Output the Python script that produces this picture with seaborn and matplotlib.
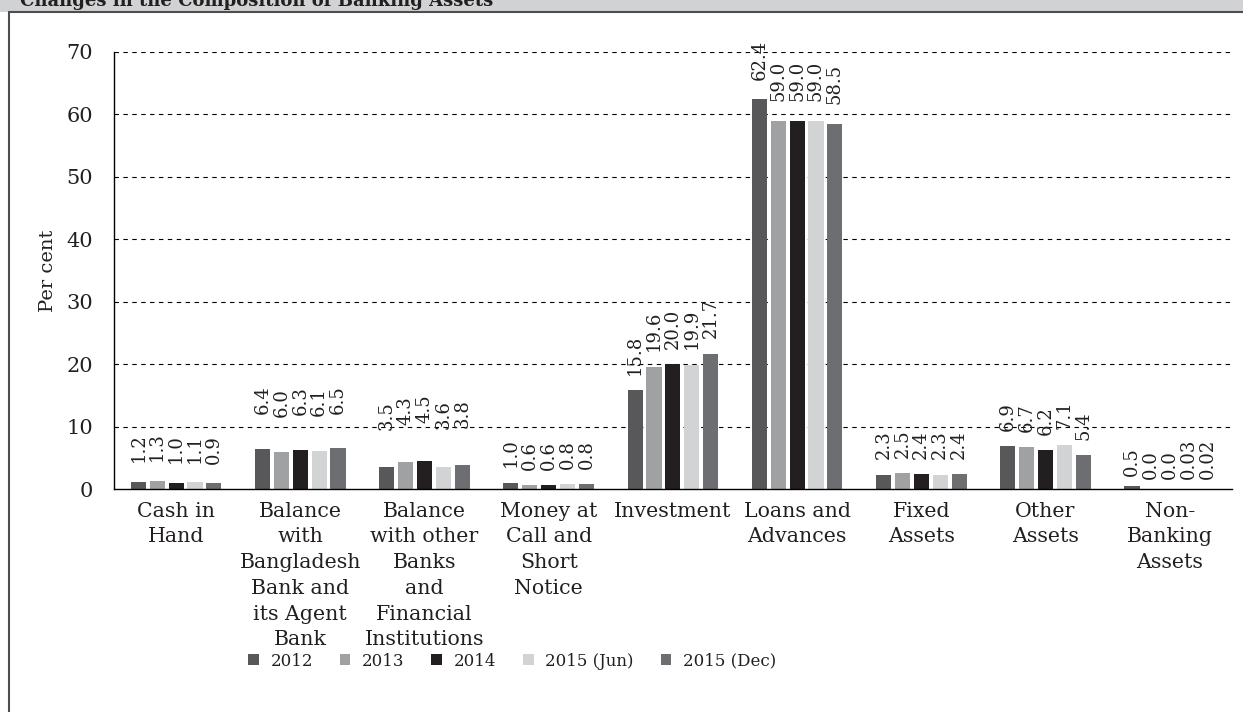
import matplotlib
matplotlib.use("Agg")
import matplotlib.pyplot as plt
from matplotlib.ticker import FixedLocator, NullFormatter
from matplotlib.lines import Line2D
from matplotlib.patches import Rectangle
import seaborn as sns
import pandas as pd

# Asset categories (x axis) and the share of each in total banking assets
categories = [
    "Cash in\nHand",
    "Balance\nwith\nBangladesh\nBank and\nits Agent\nBank",
    "Balance\nwith other\nBanks\nand\nFinancial\nInstitutions",
    "Money at\nCall and\nShort\nNotice",
    "Investment",
    "Loans and\nAdvances",
    "Fixed\nAssets",
    "Other\nAssets",
    "Non-\nBanking\nAssets",
]
series_names = ["2012", "2013", "2014", "2015 (Jun)", "2015 (Dec)"]
share_2012 = [1.2, 6.4, 3.5, 1.0, 15.8, 62.4, 2.3, 6.9, 0.5]
share_2013 = [1.3, 6.0, 4.3, 0.6, 19.6, 59.0, 2.5, 6.7, 0.0]
share_2014 = [1.0, 6.3, 4.5, 0.6, 20.0, 59.0, 2.4, 6.2, 0.0]
share_2015_jun = [1.1, 6.1, 3.6, 0.8, 19.9, 59.0, 2.3, 7.1, 0.03]
share_2015_dec = [0.9, 6.5, 3.8, 0.8, 21.7, 58.5, 2.4, 5.4, 0.02]
y_ticks = [0, 10, 20, 30, 40, 50, 60, 70]

series_values = [share_2012, share_2013, share_2014, share_2015_jun, share_2015_dec]
palette = ["#58585a", "#a0a1a3", "#231f20", "#d1d3d4", "#6d6e71"]
# extra lift (points) of the value labels above each category's bars
label_lift = [14, 25, 27, 11, 11, 14, 11, 11, 7]

rows = []
for name, vals in zip(series_names, series_values):
    for cat, v in zip(categories, vals):
        rows.append({"category": cat, "year": name, "share": v})
df = pd.DataFrame(rows)

sns.set_theme(style="white")
ink = "#231f20"
plt.rcParams["font.family"] = ["DejaVu Serif"]
plt.rcParams["text.color"] = ink
plt.rcParams["axes.labelcolor"] = ink
plt.rcParams["xtick.color"] = ink
plt.rcParams["ytick.color"] = ink

fig = plt.figure(figsize=(12.43, 7.12), dpi=100)
ax = fig.add_axes([0.0917, 0.3132, 0.8993, 0.6138])

sns.barplot(
    data=df, x="category", y="share", hue="year",
    order=categories, hue_order=series_names, palette=palette,
    width=0.76, gap=0.2, saturation=1, linewidth=0, ax=ax, legend=True,
)

# value labels, rotated, above every bar
for container, vals in zip(ax.containers, series_values):
    for i, (bar, v) in enumerate(zip(container.patches, vals)):
        txt = f"{v:.2f}" if 0 < v < 0.05 else f"{v:.1f}"
        ax.annotate(
            txt,
            xy=(bar.get_x() + bar.get_width() / 2, bar.get_height()),
            xytext=(0, label_lift[i]), textcoords="offset points",
            rotation=90, ha="center", va="bottom", fontsize=13, color=ink,
        )

ax.set_xlim(-0.5, len(categories) - 0.5)
ax.set_ylim(0, 70)
ax.set_yticks(y_ticks)
ax.set_ylabel("Per cent", fontsize=14, labelpad=7)
ax.set_xlabel("")

ax.set_xticks(range(len(categories)))
ax.set_xticklabels(categories, fontsize=14.8, linespacing=1.45)
ax.xaxis.set_minor_locator(FixedLocator([k - 0.5 for k in range(len(categories) + 1)]))
ax.xaxis.set_minor_formatter(NullFormatter())
ax.tick_params(axis="x", which="major", length=0, pad=9)
ax.tick_params(axis="x", which="minor", direction="out", length=8, width=1, color="black")
ax.tick_params(axis="y", which="major", direction="inout", length=14, width=1,
               color="black", labelsize=15, pad=8)

for y in y_ticks[1:]:
    ax.axhline(y, color="black", lw=0.8, ls=(0, (4, 4)), zorder=0)

sns.despine(ax=ax)
for side in ("left", "bottom"):
    ax.spines[side].set_color("black")
    ax.spines[side].set_linewidth(1.0)

# legend row below the chart
handles, labels = ax.get_legend_handles_labels()
ax.get_legend().remove()
fig.legend(
    handles, labels, loc="center", bbox_to_anchor=(0.412, 0.0716), ncol=5,
    frameon=False, fontsize=12, handlelength=0.65, handleheight=0.65,
    handletextpad=0.7, columnspacing=1.6,
)

# header band with title and the box edges
fig.add_artist(Rectangle((0, 1 - 12 / 712), 1, 12 / 712, transform=fig.transFigure,
                         facecolor="#d1d2d3", edgecolor="none", zorder=0))
fig.add_artist(Line2D([9 / 1243, 1], [1 - 12 / 712, 1 - 12 / 712],
                      transform=fig.transFigure, color="#4d4d4f", lw=1.5))
fig.add_artist(Line2D([9 / 1243, 9 / 1243], [0, 1 - 12 / 712],
                      transform=fig.transFigure, color="#4d4d4f", lw=1.5))
fig.text(20 / 1243, 1 - 6 / 712, "Changes in the Composition of Banking Assets",
         fontsize=13, fontweight="bold", va="baseline", ha="left", color=ink)

fig.savefig("out.png", dpi=100)
